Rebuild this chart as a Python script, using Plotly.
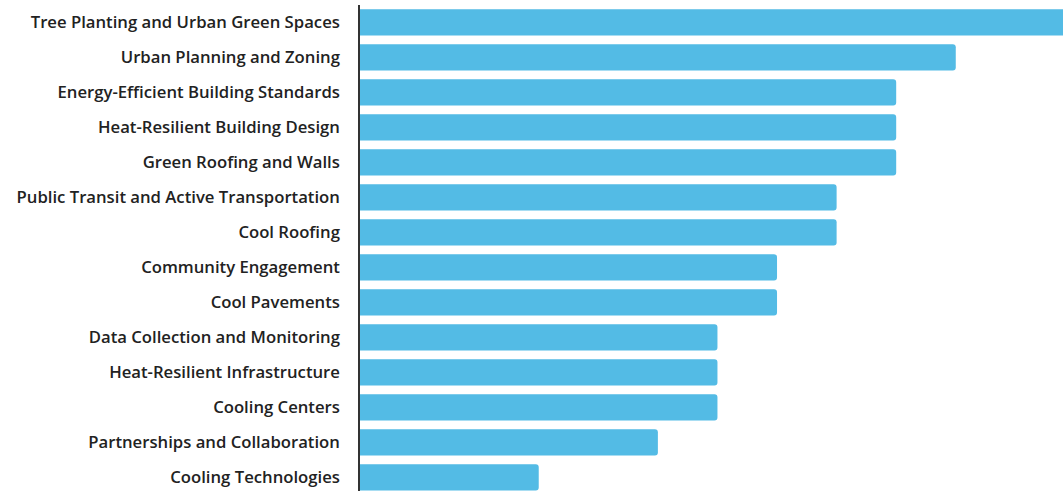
import plotly.graph_objects as go

categories = [
    "Tree Planting and Urban Green Spaces",
    "Urban Planning and Zoning",
    "Energy-Efficient Building Standards",
    "Heat-Resilient Building Design",
    "Green Roofing and Walls",
    "Public Transit and Active Transportation",
    "Cool Roofing",
    "Community Engagement",
    "Cool Pavements",
    "Data Collection and Monitoring",
    "Heat-Resilient Infrastructure",
    "Cooling Centers",
    "Partnerships and Collaboration",
    "Cooling Technologies",
]
values = [12, 10, 9, 9, 9, 8, 8, 7, 7, 6, 6, 6, 5, 3]

fig = go.Figure(
    go.Bar(
        x=values,
        y=categories,
        orientation="h",
        marker=dict(color="#53bbe5", line=dict(width=0)),
    )
)

fig.update_layout(
    width=1063,
    height=491,
    margin=dict(l=360, r=0, t=5, b=0),
    paper_bgcolor="white",
    plot_bgcolor="white",
    bargap=0.25,
    barcornerradius=3,
    showlegend=False,
    font=dict(family="Open Sans", size=16.7, color="#222222", weight=600),
)
fig.update_xaxes(
    range=[0, 11.8],
    showgrid=False,
    showticklabels=False,
    zeroline=False,
    showline=False,
)
fig.update_yaxes(
    range=[13.39, -0.5],
    showgrid=False,
    showline=True,
    linecolor="#333333",
    linewidth=1.5,
    ticks="",
    ticklabelstandoff=15,
)

fig.write_html(
    "out.html",
    config={"displayModeBar": False},
    post_script="document.body.style.margin='0';document.body.style.overflow='hidden';",
)
